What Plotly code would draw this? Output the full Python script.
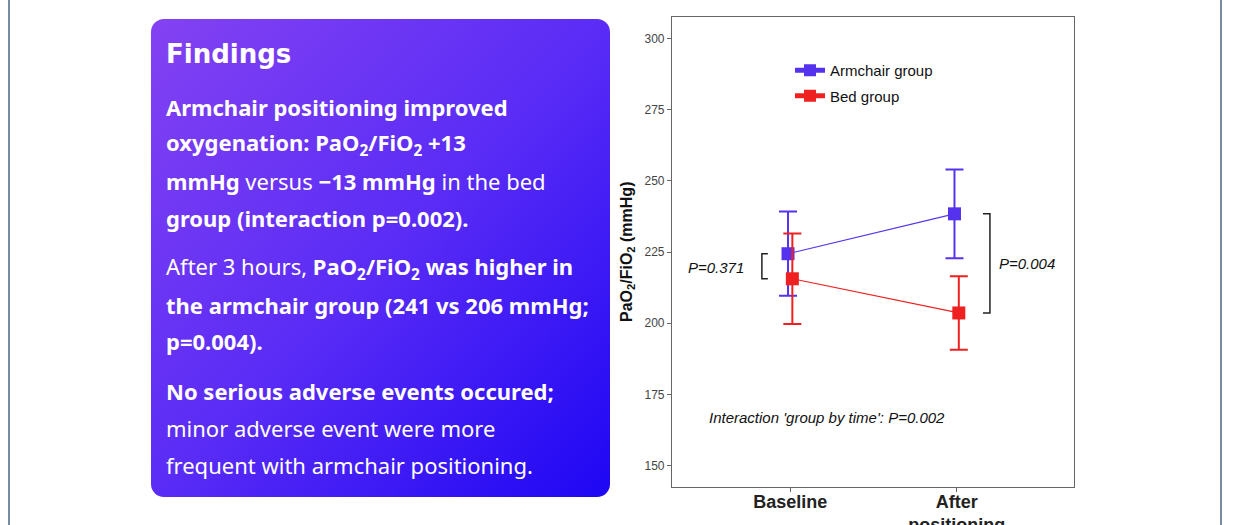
import base64
import plotly.graph_objects as go

# ---------------- data ----------------
timepoints = ["Baseline", "After<br>positioning"]
time_pos = [1, 2]
groups = ["Armchair group", "Bed group"]
armchair_mean = [224.4, 238.4]
armchair_err = [14.8, 15.6]
bed_mean = [215.6, 203.6]
bed_err = [15.9, 12.9]
y_ticks = [150, 175, 200, 225, 250, 275, 300]
p_baseline = "P=0.371"
p_after = "P=0.004"
p_interaction = "Interaction 'group by time': P=0.002"

findings_title = "Findings"
findings_lines = [
    "<b>Armchair positioning improved</b>",
    "<b>oxygenation: PaO<sub>2</sub>/FiO<sub>2</sub> +13</b>",
    "<b>mmHg</b> versus <b>\u221213 mmHg</b> in the bed",
    "<b>group (interaction p=0.002).</b>",
    "After 3 hours, <b>PaO<sub>2</sub>/FiO<sub>2</sub> was higher in</b>",
    "<b>the armchair group (241 vs 206 mmHg;</b>",
    "<b>p=0.004).</b>",
    "<b>No serious adverse events occured;</b>",
    "minor adverse event were more",
    "frequent with armchair positioning.",
]
findings_line_y = [107, 144, 181, 218, 268, 305, 341, 391, 428, 465]

# ---------------- layout geometry ----------------
W, H = 1234, 525
L, R, T, B = 672, 1074, 17, 487
PW, PH = R - L, B - T


def px_x(x):
    return (x - L) / PW


def px_y(y):
    return (B - y) / PH


ARM_COLOR = "#5533EE"
BED_COLOR = "#EE2020"
dodge = 0.013

fig = go.Figure()
for name, mean, err, color, off in [
    (groups[0], armchair_mean, armchair_err, ARM_COLOR, -dodge),
    (groups[1], bed_mean, bed_err, BED_COLOR, dodge),
]:
    fig.add_trace(go.Scatter(
        x=[p + off for p in time_pos], y=mean, name=name, legendgroup=name,
        mode="lines+markers",
        line=dict(color=color, width=1.2),
        marker=dict(symbol="square", size=13, color=color),
        error_y=dict(type="data", array=err, visible=True, color=color,
                     thickness=2, width=9),
    ))

# brackets for p-values (derived from the means)
bx0, bx1 = 0.83, 0.866
fig.add_shape(type="path", xref="x", yref="y",
              path=f"M {bx1} {armchair_mean[0]} L {bx0} {armchair_mean[0]} L {bx0} {bed_mean[0]} L {bx1} {bed_mean[0]}",
              line=dict(color="#222", width=1.5))
ax0, ax1 = 2.2, 2.158
fig.add_shape(type="path", xref="x", yref="y",
              path=f"M {ax1} {armchair_mean[1]} L {ax0} {armchair_mean[1]} L {ax0} {bed_mean[1]} L {ax1} {bed_mean[1]}",
              line=dict(color="#222", width=1.5))

ann_font = dict(family="Liberation Sans, Arial", size=15, color="#111", style="italic")
fig.add_annotation(x=0.735, xref="x", y=(armchair_mean[0] + bed_mean[0]) / 2 - 0.6, yref="y",
                   text=f"<i>{p_baseline}</i>", showarrow=False, xanchor="right", font=ann_font)
fig.add_annotation(x=2.245, xref="x", y=(armchair_mean[1] + bed_mean[1]) / 2, yref="y",
                   text=f"<i>{p_after}</i>", showarrow=False, xanchor="left", font=ann_font)
fig.add_annotation(x=0.5, xref="x", y=167, yref="y",
                   text=f"<i>{p_interaction}</i>", showarrow=False, xanchor="left", font=ann_font)

# y-axis title as annotation
fig.add_annotation(x=px_x(627), xref="paper", y=0.5, yref="paper", xanchor="center", yanchor="middle",
                   text="<b>PaO<sub>2</sub>/FiO<sub>2</sub> (mmHg)</b>", textangle=-90,
                   showarrow=False, font=dict(family="Liberation Sans, Arial", size=16, color="#111"))

# ---------------- findings panel ----------------
svg = (
    '<svg xmlns="http://www.w3.org/2000/svg" width="459" height="478" viewBox="0 0 459 478">'
    '<defs><linearGradient id="g" x1="0" y1="0" x2="1" y2="1">'
    '<stop offset="0" stop-color="#8442F2"/>'
    '<stop offset="0.5" stop-color="#5A2CF6"/>'
    '<stop offset="1" stop-color="#1E06F4"/>'
    '</linearGradient></defs>'
    '<rect x="0" y="0" width="459" height="478" rx="13" ry="13" fill="url(#g)"/>'
    '</svg>'
)
src = "data:image/svg+xml;base64," + base64.b64encode(svg.encode()).decode()
fig.add_layout_image(source=src, xref="paper", yref="paper",
                     x=px_x(151), y=px_y(19), sizex=459 / PW, sizey=478 / PH,
                     xanchor="left", yanchor="top", sizing="stretch", layer="below")

fig.add_annotation(x=px_x(164), xref="paper", y=px_y(54), yref="paper",
                   text=f"<b>{findings_title}</b>", showarrow=False, xanchor="left", yanchor="middle",
                   font=dict(family="DejaVu Sans", size=26, color="white"))
for line, yy in zip(findings_lines, findings_line_y):
    fig.add_annotation(x=px_x(164), xref="paper", y=px_y(yy), yref="paper",
                       text=line, showarrow=False, xanchor="left", yanchor="middle",
                       font=dict(family="Noto Sans", size=22, color="white"))

# outer frame
fig.add_shape(type="rect", xref="paper", yref="paper",
              x0=px_x(9), x1=px_x(1221), y0=px_y(560), y1=px_y(-30),
              line=dict(color="#4A6786", width=1.5), layer="below")

fig.update_layout(
    width=W, height=H,
    margin=dict(l=L, r=W - R, t=T, b=H - B, autoexpand=False),
    paper_bgcolor="white", plot_bgcolor="white",
    font=dict(family="Liberation Sans, Arial"),
    showlegend=True,
    legend=dict(x=px_x(790), y=px_y(54), xanchor="left", yanchor="top",
                bgcolor="rgba(0,0,0,0)", font=dict(size=15, color="#111"),
                itemsizing="constant", tracegroupgap=3),
    xaxis=dict(range=[0.29, 2.705], tickvals=time_pos, ticktext=[f"<b>{t}</b>" for t in timepoints],
               showline=True, mirror=True, linecolor="#666", linewidth=1.2,
               ticks="outside", ticklen=4, tickcolor="#666",
               showgrid=False, zeroline=False, automargin=False,
               ticklabelstandoff=-6,
               tickfont=dict(size=18, color="#222")),
    yaxis=dict(range=[142.5, 307.5], tickvals=y_ticks,
               showline=True, mirror=True, linecolor="#666", linewidth=1.2,
               ticks="outside", ticklen=4, tickcolor="#666",
               showgrid=False, zeroline=False, automargin=False,
               tickfont=dict(size=12, color="#444")),
)

post = "document.body.style.margin='0';document.body.style.overflow='hidden';"
fig.write_html("out.html", config={"displayModeBar": False}, post_script=post)
